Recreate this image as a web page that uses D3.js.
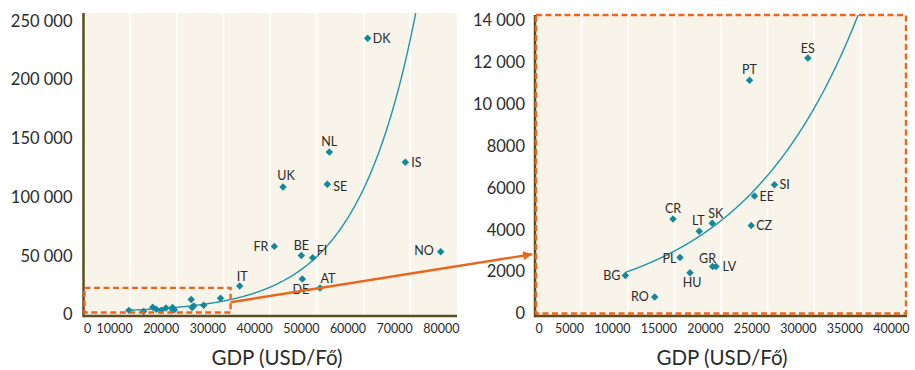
<!DOCTYPE html>
<html>
<head>
<meta charset="utf-8">
<script src="https://cdn.jsdelivr.net/npm/d3@7"></script>
<style>
  body { margin: 0; background: #ffffff; }
  svg { display: block; font-family: Lato, "Open Sans", sans-serif; }
</style>
</head>
<body>
<svg id="chart" width="915" height="370"></svg>
<script>
// Western and Northern Europe: labelled in the overview panel
const westCodes = ["DK", "NL", "IS", "UK", "SE", "FR", "BE", "FI", "NO", "IT", "DE", "AT"];
const westGdp   = [60870, 52650, 68930, 42730, 52220, 40870, 46650, 49090, 76510, 33460, 46870, 50660];
const westValue = [233600, 136700, 127900, 106900, 109200, 56300, 48600, 46600, 51700, 22500, 28500, 20800];

// Southern, Central and Eastern Europe: shown in both panels, labelled in the detail panel
const eastCodes = ["ES", "PT", "SI", "EE", "CZ", "CR", "SK", "LT", "PL", "GR", "LV", "HU", "BG", "RO"];
const eastGdp   = [29340, 23070, 25750, 23600, 23250, 14840, 19060, 17660, 15590, 19090, 19460, 16670, 9720, 12870];
const eastValue = [12210, 11140, 6150, 5610, 4200, 4510, 4310, 3930, 2680, 2240, 2240, 1950, 1810, 790];

// Axis ticks
const overviewXTicks = [0, 10000, 20000, 30000, 40000, 50000, 60000, 70000, 80000];
const overviewYTicks = [0, 50000, 100000, 150000, 200000, 250000];
const detailXTicks   = [0, 5000, 10000, 15000, 20000, 25000, 30000, 35000, 40000];
const detailYTicks   = [0, 2000, 4000, 6000, 8000, 10000, 12000, 14000];

const xTitle = "GDP (USD/Fő)";

// Exponential trend line: value = trendA * e^(trendB * gdp)
const trendA = 910;
const trendB = 7.92e-5;

// Region of the overview that the detail panel enlarges (data units of the overview)
const zoomGdp   = [0, 31500];
const zoomValue = [0, 21000];
// Arrow from the zoom region (overview units) to the detail panel (detail units)
const connectorFrom = [31500, 8700];
const connectorTo   = [-300, 2830];

const COLORS = {
  plotBg: "#f8f4ea",
  grid: "#ffffff",
  axis: "#5d4c22",
  marker: "#11899b",
  trend: "#1d95aa",
  accent: "#eb661c",
  text: "#2b2b2b"
};

// Where each country label sits relative to its marker
const labelPlacement = {
  DK: { dx: 5, dy: 0, anchor: "start" },
  NL: { dx: 0, dy: -10, anchor: "middle" },
  IS: { dx: 6, dy: 0, anchor: "start" },
  UK: { dx: 3, dy: -11, anchor: "middle" },
  SE: { dx: 6, dy: 2, anchor: "start" },
  FR: { dx: -6, dy: 0, anchor: "end" },
  BE: { dx: 0, dy: -10, anchor: "middle" },
  FI: { dx: 4, dy: -7, anchor: "start" },
  NO: { dx: -7, dy: -1, anchor: "end" },
  IT: { dx: 2.5, dy: -10, anchor: "middle" },
  DE: { dx: -1.5, dy: 10, anchor: "middle" },
  AT: { dx: 8, dy: -10, anchor: "middle" },
  ES: { dx: 0, dy: -9.5, anchor: "middle" },
  PT: { dx: 0, dy: -11, anchor: "middle" },
  SI: { dx: 5, dy: 0, anchor: "start" },
  EE: { dx: 5, dy: 0, anchor: "start" },
  CZ: { dx: 5, dy: 0, anchor: "start" },
  CR: { dx: 0, dy: -10.5, anchor: "middle" },
  SK: { dx: 3.5, dy: -9.5, anchor: "middle" },
  LT: { dx: -1, dy: -10.5, anchor: "middle" },
  PL: { dx: -3.5, dy: 1.5, anchor: "end" },
  GR: { dx: -5, dy: -8.5, anchor: "middle" },
  LV: { dx: 6.5, dy: 0, anchor: "start" },
  HU: { dx: 2, dy: 10, anchor: "middle" },
  BG: { dx: -5, dy: 0, anchor: "end" },
  RO: { dx: -6, dy: 0, anchor: "end" }
};

const svg = d3.select("#chart");

const defs = svg.append("defs");
defs.append("marker")
  .attr("id", "arrowhead")
  .attr("markerUnits", "userSpaceOnUse")
  .attr("viewBox", "0 0 10 10")
  .attr("refX", 10).attr("refY", 5)
  .attr("markerWidth", 10).attr("markerHeight", 9)
  .attr("orient", "auto")
  .append("path")
  .attr("d", "M0,0 L10,5 L0,10 Z")
  .attr("fill", COLORS.accent);

const groupFormat = v => v >= 10000 ? d3.format(",")(v).replace(/,/g, " ") : String(v);

function drawPanel(cfg) {
  const x = d3.scaleLinear().domain(cfg.xDomain).range([cfg.left, cfg.right]);
  const y = d3.scaleLinear().domain(cfg.yDomain).range([cfg.zeroY, cfg.top]);
  const g = svg.append("g");

  // plot background
  g.append("rect")
    .attr("x", cfg.left).attr("y", cfg.top)
    .attr("width", cfg.right - cfg.left).attr("height", cfg.bottom - cfg.top)
    .attr("fill", COLORS.plotBg);

  // vertical gridlines
  g.append("g").selectAll("line")
    .data(cfg.xTicks.filter(t => t > 0 && t < cfg.xDomain[1]))
    .join("line")
    .attr("x1", d => x(d)).attr("x2", d => x(d))
    .attr("y1", cfg.top).attr("y2", cfg.bottom)
    .attr("stroke", COLORS.grid).attr("stroke-width", 1.6);

  const clipId = "clip-" + cfg.id;
  defs.append("clipPath").attr("id", clipId)
    .append("rect")
    .attr("x", cfg.left).attr("y", cfg.top)
    .attr("width", cfg.right - cfg.left).attr("height", cfg.bottom - cfg.top);

  // exponential trend
  const gdpMin = d3.min(eastGdp.concat(westGdp));
  const samples = d3.range(gdpMin, cfg.xDomain[1] + 1, 100);
  g.append("path")
    .attr("clip-path", `url(#${clipId})`)
    .attr("d", d3.line().x(d => x(d)).y(d => y(trendA * Math.exp(trendB * d)))(samples))
    .attr("fill", "none")
    .attr("stroke", COLORS.trend)
    .attr("stroke-width", 1.4);

  // markers
  const diamond = d3.symbol().type(d3.symbolSquare).size(28);
  g.append("g").selectAll("path")
    .data(cfg.points)
    .join("path")
    .attr("d", diamond)
    .attr("transform", d => `translate(${x(d.gdp)},${y(d.value)}) rotate(45)`)
    .attr("fill", COLORS.marker);

  // country labels
  g.append("g").selectAll("text")
    .data(cfg.points.filter(d => d.labelled))
    .join("text")
    .attr("x", d => x(d.gdp) + labelPlacement[d.code].dx)
    .attr("y", d => y(d.value) + labelPlacement[d.code].dy)
    .attr("dy", "0.36em")
    .attr("text-anchor", d => labelPlacement[d.code].anchor)
    .attr("font-size", 12.5)
    .attr("fill", COLORS.text)
    .text(d => d.code);

  // y axis labels
  const yAxis = g.append("g")
    .attr("transform", `translate(${cfg.left},${cfg.yLabelShift})`)
    .call(d3.axisLeft(y).tickValues(cfg.yTicks).tickSize(0).tickPadding(cfg.yPad).tickFormat(groupFormat));
  yAxis.select(".domain").remove();
  yAxis.selectAll("text")
    .attr("font-family", "Lato, 'Open Sans', sans-serif")
    .attr("font-size", 16.5)
    .attr("fill", COLORS.text);

  // x axis labels
  const xAxis = g.append("g")
    .attr("transform", `translate(0,${cfg.bottom})`)
    .call(d3.axisBottom(x).tickValues(cfg.xTicks).tickSize(0).tickFormat(d => String(d)));
  xAxis.select(".domain").remove();
  xAxis.selectAll("text")
    .attr("y", 12.5)
    .attr("dy", "0.36em")
    .attr("dx", d => d === 0 ? 0 : 2)
    .attr("text-anchor", d => d === 0 ? "start" : "end")
    .attr("font-family", "Lato, 'Open Sans', sans-serif")
    .attr("font-size", 12.5)
    .attr("fill", COLORS.text);

  // axis lines
  g.append("line")
    .attr("x1", cfg.left).attr("x2", cfg.left)
    .attr("y1", cfg.top).attr("y2", cfg.bottom + 1.2)
    .attr("stroke", COLORS.axis).attr("stroke-width", 2.5);
  g.append("line")
    .attr("x1", cfg.left).attr("x2", cfg.right)
    .attr("y1", cfg.bottom).attr("y2", cfg.bottom)
    .attr("stroke", COLORS.axis).attr("stroke-width", 2.5);

  // axis title
  g.append("text")
    .attr("x", cfg.titleX).attr("y", 365)
    .attr("text-anchor", "middle")
    .attr("font-size", 20.5)
    .attr("fill", COLORS.text)
    .text(xTitle);

  return { x, y, g };
}

const westPoints = westCodes.map((c, i) => ({ code: c, gdp: westGdp[i], value: westValue[i] }));
const eastPoints = eastCodes.map((c, i) => ({ code: c, gdp: eastGdp[i], value: eastValue[i] }));

const overview = drawPanel({
  id: "overview",
  left: 83.5, right: 457, top: 13, bottom: 316, zeroY: 312.5,
  xDomain: [0, 80000], yDomain: [0, 255000],
  xTicks: overviewXTicks, yTicks: overviewYTicks,
  yPad: 11, yLabelShift: 2,
  titleX: 277,
  points: westPoints.map(d => ({ ...d, labelled: true }))
    .concat(eastPoints.map(d => ({ ...d, labelled: false })))
});

const detail = drawPanel({
  id: "detail",
  left: 535, right: 907, top: 15, bottom: 316, zeroY: 313.5,
  xDomain: [0, 40000], yDomain: [0, 14260],
  xTicks: detailXTicks, yTicks: detailYTicks,
  yPad: 10, yLabelShift: 0,
  titleX: 722,
  points: eastPoints.map(d => ({ ...d, labelled: true }))
});

// dashed zoom region in the overview
overview.g.append("rect")
  .attr("x", overview.x(zoomGdp[0]) + 1)
  .attr("y", overview.y(zoomValue[1]))
  .attr("width", overview.x(zoomGdp[1]) - overview.x(zoomGdp[0]) - 1)
  .attr("height", overview.y(zoomValue[0]) - overview.y(zoomValue[1]))
  .attr("fill", "none")
  .attr("stroke", COLORS.accent)
  .attr("stroke-width", 2.4)
  .attr("stroke-dasharray", "6,3.5");

// dashed frame around the detail panel
detail.g.append("rect")
  .attr("x", detail.x(0) + 1)
  .attr("y", detail.y(14260))
  .attr("width", detail.x(40000) - detail.x(0) - 2)
  .attr("height", detail.y(0) - detail.y(14260))
  .attr("fill", "none")
  .attr("stroke", COLORS.accent)
  .attr("stroke-width", 2.4)
  .attr("stroke-dasharray", "6,3.5");

// connector arrow
svg.append("line")
  .attr("x1", overview.x(connectorFrom[0])).attr("y1", overview.y(connectorFrom[1]))
  .attr("x2", detail.x(connectorTo[0])).attr("y2", detail.y(connectorTo[1]))
  .attr("stroke", COLORS.accent)
  .attr("stroke-width", 2.4)
  .attr("marker-end", "url(#arrowhead)");
</script>
</body>
</html>
